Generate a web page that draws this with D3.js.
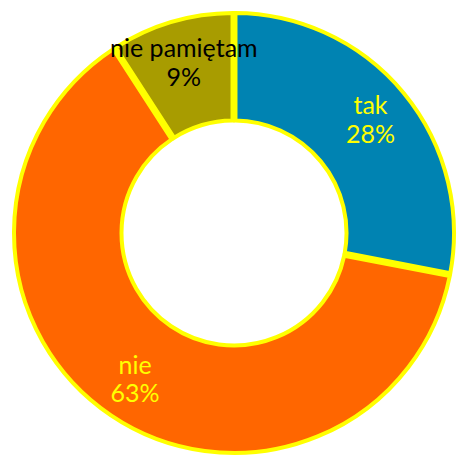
<!DOCTYPE html>
<html>
<head>
<meta charset="utf-8">
<script src="https://cdn.jsdelivr.net/npm/d3@7"></script>
<style>
  html, body { margin: 0; padding: 0; background: #ffffff; }
  svg { display: block; }
</style>
</head>
<body>
<svg id="chart" width="457" height="457"></svg>
<script>
// Survey answers and their shares (percent)
const categories = ["tak", "nie", "nie pamiętam"];
const values = [28, 63, 9];
const colors = ["#0083B2", "#FF6600", "#A89C00"];
const labelColors = ["#FFFF00", "#FFFF00", "#000000"];

const width = 457, height = 457;
const cx = 234, cy = 233;
const outerR = 220, innerR = 112.5, labelR = 177;

const svg = d3.select("#chart");
const g = svg.append("g").attr("transform", `translate(${cx},${cy})`);

const data = categories.map((c, i) => ({ name: c, value: values[i], color: colors[i], text: labelColors[i] }));

const pie = d3.pie().value(d => d.value).sort(null).padAngle(0.012);
const arc = d3.arc().innerRadius(innerR).outerRadius(outerR);
const labelArc = d3.arc().innerRadius(labelR).outerRadius(labelR);

const arcs = pie(data);

g.selectAll("path.slice")
  .data(arcs)
  .join("path")
  .attr("class", "slice")
  .attr("d", arc)
  .attr("fill", d => d.data.color)
  .attr("stroke", "#FFFF00")
  .attr("stroke-width", 4)
  .attr("stroke-linejoin", "miter");

const labels = g.selectAll("text.label")
  .data(arcs)
  .join("text")
  .attr("class", "label")
  .attr("text-anchor", "middle")
  .attr("font-family", "Lato, 'Noto Sans', sans-serif")
  .attr("font-size", 25)
  .attr("fill", d => d.data.text);

labels.append("tspan")
  .attr("x", d => labelArc.centroid(d)[0])
  .attr("y", d => labelArc.centroid(d)[1] - 6)
  .text(d => d.data.name);

labels.append("tspan")
  .attr("x", d => labelArc.centroid(d)[0])
  .attr("y", d => labelArc.centroid(d)[1] + 22.5)
  .text(d => d3.format(".0f")(d.data.value) + "%");
</script>
</body>
</html>
